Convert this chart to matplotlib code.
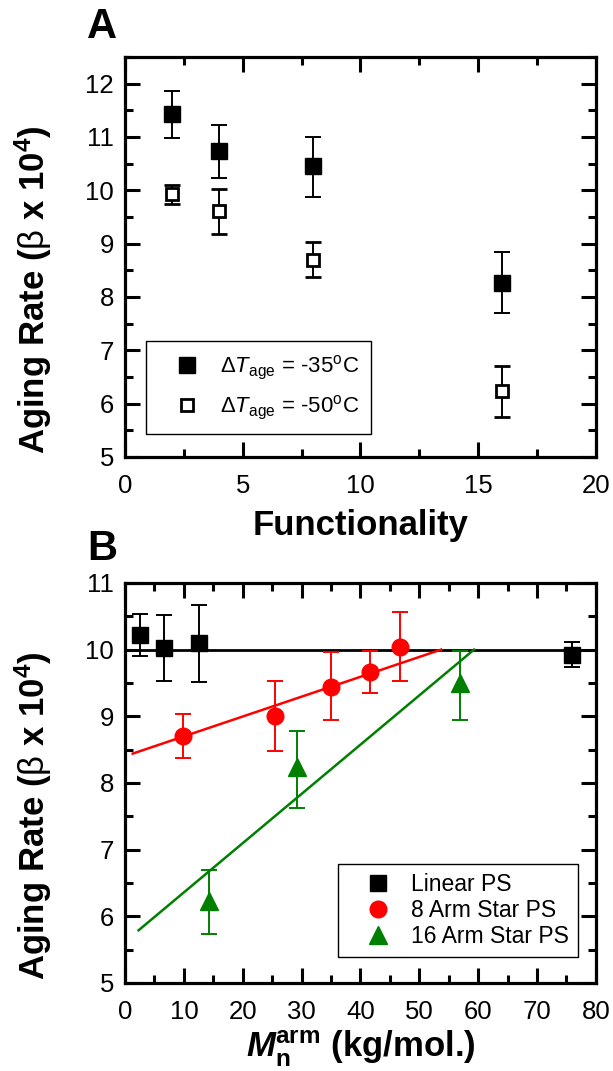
import matplotlib
matplotlib.use("Agg")
import matplotlib.pyplot as plt
from matplotlib.ticker import MultipleLocator
from matplotlib.lines import Line2D
import numpy as np

plt.rcParams['font.family'] = ['Liberation Sans', 'DejaVu Sans']
plt.rcParams['mathtext.fontset'] = 'custom'
plt.rcParams['mathtext.rm'] = 'Liberation Sans'
plt.rcParams['mathtext.it'] = 'Liberation Sans:italic'
plt.rcParams['mathtext.bf'] = 'Liberation Sans:bold'
plt.rcParams['mathtext.bfit'] = 'Liberation Sans:bold:italic'

# ---------- Panel A data ----------
func = [2, 4, 8, 16]
rate35 = [11.43, 10.74, 10.45, 8.27]
rate35_lo = [10.98, 10.23, 9.88, 7.70]
rate35_hi = [11.87, 11.22, 11.00, 8.85]
rate50 = [9.94, 9.61, 8.70, 6.24]
rate50_lo = [9.75, 9.18, 8.38, 5.75]
rate50_hi = [10.10, 10.03, 9.03, 6.70]
legendA = [r'$\Delta\mathit{T}_{\mathrm{age}}$ = -35$^{\mathrm{o}}$C',
           r'$\Delta\mathit{T}_{\mathrm{age}}$ = -50$^{\mathrm{o}}$C']

# ---------- Panel B data ----------
lin_x = [2.5, 6.6, 12.5, 75.9]
lin_y = [10.22, 10.02, 10.10, 9.92]
lin_lo = [9.90, 9.53, 9.51, 9.74]
lin_hi = [10.53, 10.52, 10.67, 10.11]
s8_x = [9.9, 25.4, 35.0, 41.6, 46.7]
s8_y = [8.70, 9.00, 9.44, 9.66, 10.04]
s8_lo = [8.37, 8.48, 8.94, 9.35, 9.53]
s8_hi = [9.03, 9.53, 9.96, 9.98, 10.56]
s16_x = [14.2, 29.2, 57.0]
s16_y = [6.23, 8.24, 9.50]
s16_lo = [5.74, 7.63, 8.95]
s16_hi = [6.70, 8.78, 9.98]
lin_fit_x = [0, 80]
lin_fit_y = [10.0, 10.0]
s8_fit_x = [1.3, 53.7]
s8_fit_y = [8.44, 10.0]
s16_fit_x = [2.3, 59.3]
s16_fit_y = [5.79, 10.0]
legendB = ['Linear PS', '8 Arm Star PS', '16 Arm Star PS']

RED = '#ff0000'
GREEN = '#007f00'

fig = plt.figure(figsize=(6.13, 10.71), dpi=100)
L, W, H = 0.204, 0.768, 0.3735
axA = fig.add_axes([L, 0.5733, W, H])
axB = fig.add_axes([L, 0.0822, W, H])

YLABEL = r'Aging Rate ($\mathrm{\beta}$ x 10$^{\mathbf{4}}$)'


def yerr(y, lo, hi):
    y = np.array(y); return [y - np.array(lo), np.array(hi) - y]


def style(ax):
    for s in ax.spines.values():
        s.set_linewidth(2.3)
    ax.tick_params(which='both', direction='in', top=True, right=True,
                   width=2.2, labelsize=18.5)
    ax.tick_params(axis='x', which='both', pad=12)
    ax.tick_params(axis='y', which='both', pad=8)
    ax.tick_params(which='major', length=11)
    ax.tick_params(which='minor', length=6)
    ax.set_ylabel(YLABEL, fontsize=25, fontweight='bold')
    ax.yaxis.set_label_coords(-0.195, 0.4175)
    ax.yaxis.label.set_va('center')


# Panel A
ekw = dict(capsize=6, elinewidth=1.4, capthick=1.4, ecolor='black', ls='none')
axA.errorbar(func, rate35, yerr=yerr(rate35, rate35_lo, rate35_hi), marker='s',
             ms=11, mfc='black', mec='black', **ekw)
axA.errorbar(func, rate50, yerr=yerr(rate50, rate50_lo, rate50_hi), marker='s',
             ms=8.5, mfc='white', mec='black', mew=2, **ekw)
axA.set_xlim(0, 20)
axA.set_ylim(5, 12.5)
axA.xaxis.set_major_locator(MultipleLocator(5))
axA.xaxis.set_minor_locator(MultipleLocator(2.5))
axA.yaxis.set_major_locator(MultipleLocator(1))
axA.yaxis.set_minor_locator(MultipleLocator(0.5))
style(axA)
axA.set_xlabel('Functionality', fontsize=25, fontweight='bold', labelpad=8)
hA = [Line2D([], [], ls='none', marker='s', ms=11, mfc='black', mec='black'),
      Line2D([], [], ls='none', marker='s', ms=8.5, mfc='white', mec='black', mew=2)]
legA = axA.legend(hA, legendA, loc='lower left', bbox_to_anchor=(0.045, 0.057),
                  borderaxespad=0, fontsize=16, frameon=True, fancybox=False,
                  edgecolor='black', framealpha=1, handletextpad=0.15,
                  labelspacing=0.55, borderpad=0.55, handlelength=2.6)
legA.get_frame().set_linewidth(1.0)

# Panel B
axB.plot(lin_fit_x, lin_fit_y, color='black', lw=2.0, zorder=2)
axB.plot(s8_fit_x, s8_fit_y, color=RED, lw=1.8, zorder=2)
axB.plot(s16_fit_x, s16_fit_y, color=GREEN, lw=1.8, zorder=2)
axB.errorbar(lin_x, lin_y, yerr=yerr(lin_y, lin_lo, lin_hi), marker='s', ms=11,
             mfc='black', mec='black', capsize=6, elinewidth=1.4, capthick=1.4,
             ecolor='black', ls='none', zorder=3)
axB.errorbar(s8_x, s8_y, yerr=yerr(s8_y, s8_lo, s8_hi), marker='o', ms=12,
             mfc=RED, mec=RED, capsize=6, elinewidth=1.4, capthick=1.4,
             ecolor=RED, ls='none', zorder=3)
axB.errorbar(s16_x, s16_y, yerr=yerr(s16_y, s16_lo, s16_hi), marker='^', ms=13,
             mfc=GREEN, mec=GREEN, capsize=6, elinewidth=1.4, capthick=1.4,
             ecolor=GREEN, ls='none', zorder=3)
axB.set_xlim(0, 80)
axB.set_ylim(5, 11)
axB.xaxis.set_major_locator(MultipleLocator(10))
axB.xaxis.set_minor_locator(MultipleLocator(5))
axB.yaxis.set_major_locator(MultipleLocator(1))
axB.yaxis.set_minor_locator(MultipleLocator(0.5))
style(axB)
axB.set_xlabel(r'$\mathbfit{M}_{\mathbf{n}}^{\mathbf{arm}}$ (kg/mol.)', fontsize=25,
               fontweight='bold', labelpad=4)
hB = [Line2D([], [], ls='none', marker='s', ms=11, mfc='black', mec='black'),
      Line2D([], [], ls='none', marker='o', ms=12, mfc=RED, mec=RED),
      Line2D([], [], ls='none', marker='^', ms=13, mfc=GREEN, mec=GREEN)]
legB = axB.legend(hB, legendB, loc='lower right', bbox_to_anchor=(0.962, 0.065),
                  borderaxespad=0, fontsize=16.5, frameon=True, fancybox=False,
                  edgecolor='black', framealpha=1, handletextpad=0.1,
                  labelspacing=0.12, borderpad=0.4, handlelength=2.7)
legB.get_frame().set_linewidth(1.0)

fig.text(87 / 613, 1 - 38 / 1071, 'A', fontsize=30, fontweight='bold', va='baseline')
fig.text(87 / 613, 1 - 560 / 1071, 'B', fontsize=30, fontweight='bold', va='baseline')

fig.savefig('out.png', dpi=100)
